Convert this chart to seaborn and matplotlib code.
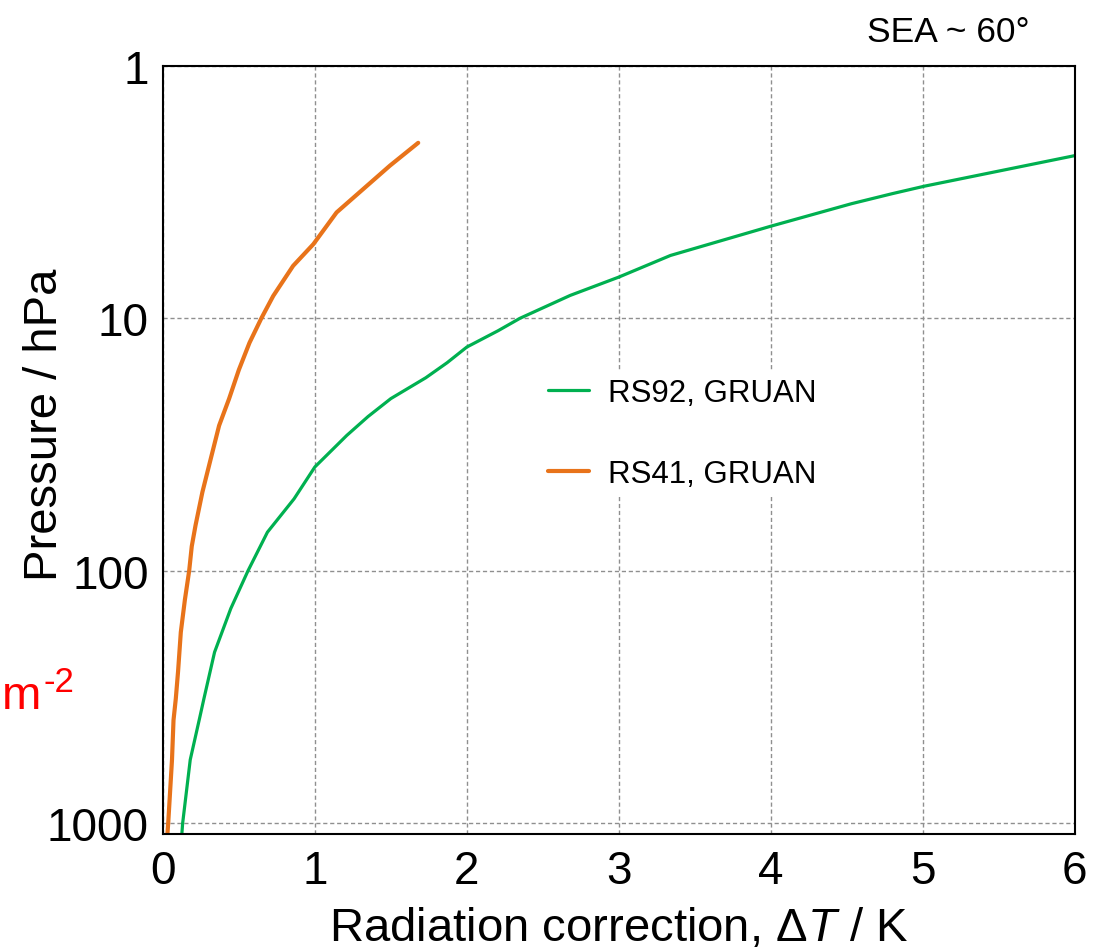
import numpy as np
import pandas as pd
import seaborn as sns
import matplotlib
matplotlib.use("Agg")
import matplotlib.pyplot as plt
from matplotlib.ticker import FixedLocator, FixedFormatter, NullLocator

# ==============================
# Data
# ==============================
rs92_dt = [0.125, 0.13, 0.18, 0.243, 0.27, 0.34, 0.447, 0.56, 0.688, 0.863,
           1.0, 1.21, 1.35, 1.5, 1.73, 1.87, 2.0, 2.206, 2.35, 2.68, 3.0, 3.34,
           4.0, 4.53, 4.80, 5.01, 6.0]
rs92_p = [1100, 1000, 560, 380, 321, 210, 141, 100, 70.3, 51.9,
          38.8, 29.1, 24.5, 20.8, 17.2, 15.0, 13.0, 11.2, 10.0, 8.12, 6.87, 5.64,
          4.32, 3.52, 3.21, 3.0, 2.27]

rs41_dt = [0.03, 0.035, 0.06, 0.07, 0.085, 0.10, 0.118, 0.145, 0.173, 0.19,
           0.215, 0.26, 0.315, 0.37, 0.436, 0.50, 0.57, 0.648, 0.726, 0.857, 0.99,
           1.143, 1.318, 1.493, 1.68]
rs41_p = [1100, 1000, 560, 390, 321, 250, 175, 130, 100, 80,
          66, 48.8, 36, 26.6, 20.8, 16.0, 12.5, 10.0, 8.16, 6.2, 5.09,
          3.81, 3.08, 2.49, 2.02]

series_names = ["RS92, GRUAN", "RS41, GRUAN"]
series_colors = ["#00B050", "#E8731A"]
series_widths = [2.3, 3.0]

x_ticks = [0, 1, 2, 3, 4, 5, 6]
y_ticks = [1, 10, 100, 1000]
y_ticklabels = ["1", "10", "100", "1000"]

df = pd.concat([
    pd.DataFrame({"dT": rs92_dt, "p": rs92_p, "sonde": series_names[0]}),
    pd.DataFrame({"dT": rs41_dt, "p": rs41_p, "sonde": series_names[1]}),
], ignore_index=True)

# ==============================
# Style
# ==============================
sns.set_style("white")
plt.rcParams["font.family"] = ["Liberation Sans", "DejaVu Sans"]
plt.rcParams["text.color"] = "black"
plt.rcParams["axes.labelcolor"] = "black"
plt.rcParams["xtick.color"] = "black"
plt.rcParams["ytick.color"] = "black"
plt.rcParams["mathtext.fontset"] = "custom"
plt.rcParams["mathtext.rm"] = "Liberation Sans"
plt.rcParams["mathtext.it"] = "Liberation Sans:italic"
plt.rcParams["mathtext.bf"] = "Liberation Sans:bold"

fig = plt.figure(figsize=(11.08, 9.53), dpi=100)
ax = fig.add_axes([0.147, 0.124, 0.823, 0.806])

for name, col, lw in zip(series_names, series_colors, series_widths):
    sub = df[df["sonde"] == name]
    sns.lineplot(data=sub, x="dT", y="p", sort=False, estimator=None,
                 color=col, linewidth=lw, label=name, ax=ax)

ax.set_yscale("log")
ax.set_ylim(1100, 1)
ax.set_xlim(0, 6)

ax.xaxis.set_major_locator(FixedLocator(x_ticks))
ax.yaxis.set_major_locator(FixedLocator(y_ticks))
ax.yaxis.set_major_formatter(FixedFormatter(y_ticklabels))
ax.yaxis.set_minor_locator(NullLocator())
ax.tick_params(axis="both", length=0, labelsize=33, colors="black")
ax.tick_params(axis="y", pad=10)
ax.tick_params(axis="x", pad=11)

ax.grid(True, which="major", linestyle=(0, (3, 2)), color="#8f8f8f", linewidth=1.0)
for s in ax.spines.values():
    s.set_color("black")
    s.set_linewidth(1.5)

ax.set_xlabel(r"Radiation correction, $\Delta T$ / K", fontsize=34, labelpad=9)
ax.set_ylabel("Pressure / hPa", fontsize=34)
ax.yaxis.set_label_coords(-0.105, 0.534)

leg = ax.legend(loc="upper left", bbox_to_anchor=(0.416, 0.602), fontsize=22.5,
                frameon=True, facecolor="white", edgecolor="none", framealpha=1,
                handlelength=1.3, handletextpad=0.6, labelspacing=1.65,
                borderpad=0.2, borderaxespad=0)

fig.text(1030 / 1108, 1 - 32 / 953, "SEA ~ 60°", fontsize=25.5, ha="right", va="center")
fig.text(41 / 1108, 1 - 709 / 953, "m", fontsize=34, color="red",
         ha="right", va="baseline")
fig.text(43 / 1108, 1 - 692 / 953, "-2", fontsize=25, color="red",
         ha="left", va="baseline")

plt.savefig("out.png", dpi=100)
